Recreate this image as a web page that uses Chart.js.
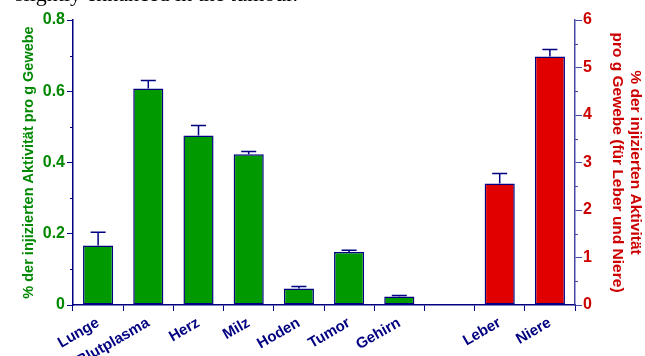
<!DOCTYPE html>
<html>
<head>
<meta charset="utf-8">
<script src="https://cdn.jsdelivr.net/npm/chart.js@4"></script>
<style>
    html, body { margin: 0; padding: 0; background: #fff; overflow: hidden; }
    #wrap { position: relative; width: 645px; height: 356px; }
    #caption {
        position: absolute; left: 15px; top: -19px;
        font: 22px "Liberation Serif", "Times New Roman", serif; color: #000;
        white-space: nowrap;
    }
</style>
</head>
<body>
<div id="wrap">
    <div id="caption">slightly enhanced in the tumour.</div>
    <canvas id="organChart" width="645" height="356"></canvas>
</div>
<script>
    const organs = ['Lunge', 'Blutplasma', 'Herz', 'Milz', 'Hoden', 'Tumor', 'Gehirn', '', 'Leber', 'Niere'];
    // left axis (most organs)
    const tissueValues = [0.167, 0.608, 0.476, 0.423, 0.046, 0.149, 0.024, null, null, null];
    const tissueErrors = [0.037, 0.022, 0.028, 0.008, 0.006, 0.005, 0.003, null, null, null];
    // right axis (liver and kidney)
    const liverKidneyValues = [null, null, null, null, null, null, null, null, 2.56, 5.23];
    const liverKidneyErrors = [null, null, null, null, null, null, null, null, 0.21, 0.15];

    const NAVY = '#000080';
    const FONT = 'Arial, "Liberation Sans", sans-serif';

    // upper error bars, positioned through the dataset's own y scale
    const errorBars = {
        id: 'errorBars',
        afterDatasetsDraw(chart) {
            const ctx = chart.ctx;
            ctx.save();
            ctx.strokeStyle = NAVY;
            ctx.lineWidth = 1.5;
            chart.data.datasets.forEach(function (ds, i) {
                const meta = chart.getDatasetMeta(i);
                const scale = chart.scales[ds.yAxisID];
                meta.data.forEach(function (bar, j) {
                    const v = ds.data[j];
                    const e = ds.errors[j];
                    if (v == null || e == null) return;
                    const yTop = scale.getPixelForValue(v + e);
                    ctx.beginPath();
                    ctx.moveTo(bar.x, bar.y);
                    ctx.lineTo(bar.x, yTop);
                    ctx.moveTo(bar.x - 7.5, yTop);
                    ctx.lineTo(bar.x + 7.5, yTop);
                    ctx.stroke();
                });
            });
            ctx.restore();
        }
    };

    // minor ticks halfway between the major ones
    const minorTicks = {
        id: 'minorTicks',
        afterDraw(chart) {
            const ctx = chart.ctx;
            ctx.save();
            ctx.lineWidth = 1;
            [['y', 0.1, -3, NAVY], ['y1', 0.5, 3, '#4848a8']].forEach(function (s) {
                const scale = chart.scales[s[0]];
                const x = s[0] === 'y' ? scale.right : scale.left;
                ctx.strokeStyle = s[3];
                for (let v = s[1]; v < scale.max; v += s[1] * 2) {
                    const y = Math.round(scale.getPixelForValue(v)) + 0.5;
                    ctx.beginPath();
                    ctx.moveTo(x, y);
                    ctx.lineTo(x + s[2], y);
                    ctx.stroke();
                }
            });
            ctx.restore();
        }
    };

    new Chart(document.getElementById('organChart').getContext('2d'), {
        type: 'bar',
        data: {
            labels: organs,
            datasets: [
                {
                    data: tissueValues,
                    errors: tissueErrors,
                    yAxisID: 'y',
                    backgroundColor: '#009a00',
                    borderColor: NAVY,
                    borderWidth: 1.5,
                    borderSkipped: false
                },
                {
                    data: liverKidneyValues,
                    errors: liverKidneyErrors,
                    yAxisID: 'y1',
                    backgroundColor: '#e00000',
                    borderColor: NAVY,
                    borderWidth: 1.5,
                    borderSkipped: false
                }
            ]
        },
        options: {
            responsive: false,
            animation: false,
            grouped: false,
            categoryPercentage: 1,
            barPercentage: 0.6,
            layout: { padding: { top: 20 } },
            plugins: {
                legend: { display: false },
                tooltip: { enabled: false }
            },
            scales: {
                x: {
                    afterFit: function (scale) { scale.height = 51; },
                    grid: {
                        offset: true,
                        drawOnChartArea: false,
                        color: NAVY,
                        tickLength: 6
                    },
                    border: { color: NAVY, width: 1.5 },
                    ticks: {
                        color: NAVY,
                        font: { family: FONT, size: 15, weight: 'bold' },
                        minRotation: 30,
                        maxRotation: 30,
                        autoSkip: false,
                        padding: 3
                    }
                },
                y: {
                    position: 'left',
                    min: 0,
                    max: 0.8,
                    afterFit: function (scale) { scale.width = 73; },
                    grid: { drawOnChartArea: false, color: NAVY, tickLength: 6 },
                    border: { color: NAVY, width: 1.5 },
                    ticks: {
                        stepSize: 0.2,
                        color: '#008800',
                        padding: 2,
                        font: { family: FONT, size: 16, weight: 'bold' },
                        callback: function (v) { return v === 0 ? '0' : v.toFixed(1); }
                    },
                    title: {
                        display: true,
                        text: '% der injizierten Aktivität pro g Gewebe',
                        color: '#008800',
                        font: { family: FONT, size: 14.5, weight: 'bold' },
                        padding: { top: 20, bottom: 0 }
                    }
                },
                y1: {
                    position: 'right',
                    min: 0,
                    max: 6,
                    afterFit: function (scale) { scale.width = 70; },
                    grid: { drawOnChartArea: false, color: '#4848a8', tickLength: 7 },
                    border: { color: '#4848a8', width: 1.5 },
                    ticks: {
                        stepSize: 1,
                        color: '#cc0000',
                        padding: 1,
                        font: { family: FONT, size: 16, weight: 'bold' }
                    },
                    title: {
                        display: true,
                        text: ['% der injizierten Aktivität', 'pro g Gewebe (für Leber und Niere)'],
                        color: '#cc0000',
                        font: { family: FONT, size: 15.5, weight: 'bold', lineHeight: 1.2 },
                        padding: { top: 0, bottom: 4 }
                    }
                }
            }
        },
        plugins: [errorBars, minorTicks]
    });
</script>
</body>
</html>
